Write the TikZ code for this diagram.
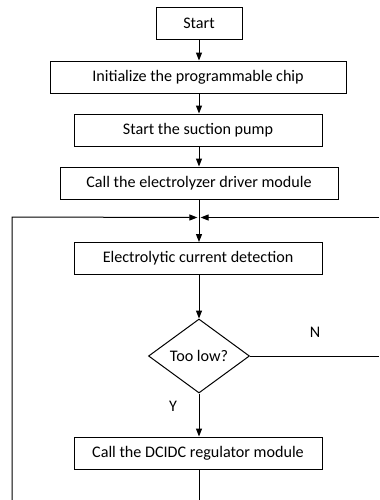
\documentclass[tikz,border=0pt]{standalone}
\usepackage{fontspec}
\setmainfont{Carlito}
\usetikzlibrary{arrows.meta,shapes.geometric}
\begin{document}
\begin{tikzpicture}[x=0.75pt,y=-0.75pt,
  box/.style={draw,line width=0.75pt,rectangle,inner sep=0pt,font=\fontsize{12.1}{14}\selectfont,minimum height=32*0.75pt},
  dia/.style={draw,line width=0.75pt,diamond,aspect=1.36,inner sep=0pt,minimum width=101*0.75pt,minimum height=74*0.75pt,font=\fontsize{12.1}{14}\selectfont},
  lbl/.style={fill=white,inner sep=1.5pt,font=\fontsize{12.1}{14}\selectfont},
  conn/.style={line width=0.75pt},
  arr/.style={conn,-{Triangle[length=6pt,width=4.5pt]}}]
\useasboundingbox (0,0) rectangle (379,500);
\node[box,minimum width=86*0.75pt] (start) at (199,23.5) {Start};
\node[box,minimum width=296*0.75pt] (init) at (198,77) {Initialize the programmable chip};
\node[box,minimum width=248*0.75pt] (pump) at (198,130) {Start the suction pump};
\node[box,minimum width=278*0.75pt] (drv) at (199,183) {Call the electrolyzer driver module};
\coordinate (j) at (199,217.5);
\node[box,minimum width=248*0.75pt] (det) at (198,258.5) {Electrolytic current detection};
\node[dia] (low) at (199,356) {Too low?};
\node[box,minimum width=248*0.75pt] (dc) at (198,453) {Call the DCIDC regulator module};
\coordinate (bot) at (199,500);
\coordinate (lb) at (12,500);
\coordinate (lt) at (12,217);
\coordinate (rt) at (379,217.5);
\coordinate (rb) at (379,356);
\draw[arr] (start.south) -- (start.south |- init.north);
\draw[arr] (init.south -| start.south) -- (start.south |- pump.north);
\draw[arr] (pump.south -| start.south) -- (start.south |- drv.north);
\draw[arr] (drv.south -| start.south) -- (start.south |- det.north);
\draw[arr] (det.south -| start.south) -- (low.north);
\draw[arr] (low.south) -- (low.south |- dc.north);
\draw[conn] (dc.south -| low.south) -- (bot);
\draw[arr] (lb) -- (lt) -- ([xshift=-1.2pt]j);
\draw[conn] (low.east) -- (rb);
\draw[arr] (rt) -- ([xshift=1.2pt]j);
\node[lbl] (n) at (315,332) {N};
\node[lbl] (y) at (173,406) {Y};
\end{tikzpicture}
\end{document}
